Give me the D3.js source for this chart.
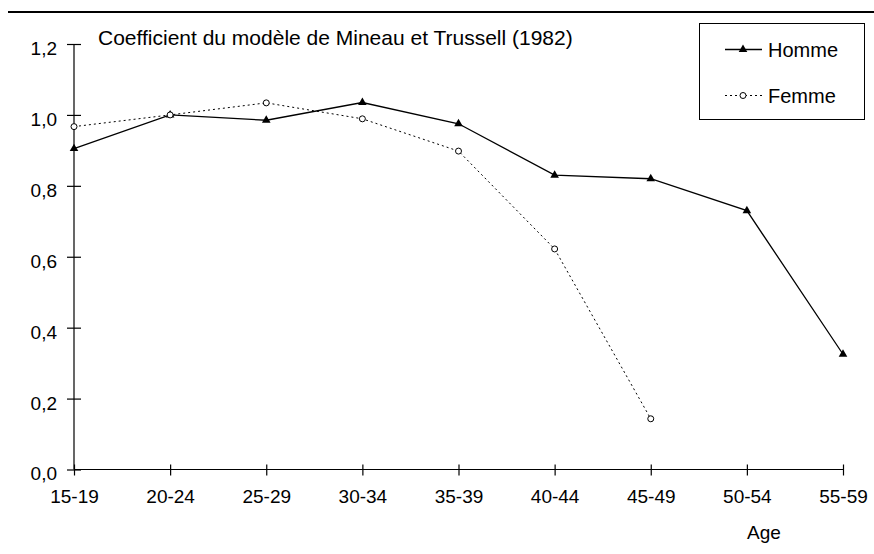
<!DOCTYPE html>
<html><head><meta charset="utf-8">
<script src="https://cdn.jsdelivr.net/npm/d3@7"></script>
<style>body{margin:0;background:#fff}svg{display:block}text{font-family:"Liberation Sans",Arial,sans-serif;fill:#000}</style>
</head><body>
<svg id="c" width="874" height="554"></svg>
<script>
const categories = ["15-19","20-24","25-29","30-34","35-39","40-44","45-49","50-54","55-59"];
const homme = [0.905, 1.0, 0.985, 1.035, 0.975, 0.83, 0.82, 0.73, 0.325];
const femme = [0.967, 1.0, 1.034, 0.989, 0.898, 0.622, 0.143];
const yTicks = [0, 0.2, 0.4, 0.6, 0.8, 1.0, 1.2];
const titleText = "Coefficient du modèle de Mineau et Trussell (1982)";
const xTitle = "Age";
const seriesNames = ["Homme", "Femme"];

const svg = d3.select("#c");
const x = d3.scalePoint().domain(categories).range([74, 843]);
const y = d3.scaleLinear().domain([0, 1.2]).range([469.5, 44]);

svg.append("line").attr("x1", 8).attr("x2", 874).attr("y1", 12).attr("y2", 12)
  .attr("stroke", "#000").attr("stroke-width", 2);

const fmt = d => d3.format(".1f")(d).replace(".", ",");
const yAxis = svg.append("g").attr("transform", "translate(74,0)")
  .call(d3.axisLeft(y).tickValues(yTicks).tickFormat(fmt).tickSize(7).tickPadding(10));
yAxis.selectAll(".tick line").attr("x2", 7).attr("x1", -7);
yAxis.select(".domain").attr("d", `M0,${y(1.2)}V${y(0)}`);
yAxis.selectAll("text").style("font-size", "19px").attr("dy", "0.55em").attr("x", -17);

const xAxis = svg.append("g").attr("transform", `translate(0,${y(0)})`)
  .call(d3.axisBottom(x).tickSize(6).tickPadding(14));
xAxis.selectAll(".tick line").attr("y1", -5).attr("y2", 6);
xAxis.select(".domain").attr("d", `M74,0H843`);
xAxis.selectAll("text").style("font-size", "19px");
svg.selectAll(".domain, .tick line").attr("stroke", "#000").attr("stroke-width", 1.2);

svg.append("text").attr("x", 747).attr("y", 539).style("font-size", "19px").text(xTitle);
svg.append("text").attr("x", 98).attr("y", 45).style("font-size", "21px").text(titleText);

const line = d3.line().x((d, i) => x(categories[i])).y(d => y(d));
svg.append("path").datum(femme).attr("d", line).attr("fill", "none")
  .attr("stroke", "#000").attr("stroke-width", 1).attr("stroke-dasharray", "2,3");
svg.append("path").datum(homme).attr("d", line).attr("fill", "none")
  .attr("stroke", "#000").attr("stroke-width", 1.3);

const tri = d3.symbol().type(d3.symbolTriangle).size(32);
svg.selectAll(".th").data(homme).enter().append("path")
  .attr("transform", (d, i) => `translate(${x(categories[i])},${y(d)})`)
  .attr("d", tri).attr("fill", "#000");
svg.selectAll(".cf").data(femme).enter().append("circle")
  .attr("cx", (d, i) => x(categories[i])).attr("cy", d => y(d)).attr("r", 3)
  .attr("fill", "#fff").attr("stroke", "#000").attr("stroke-width", 1);

// legend
svg.append("rect").attr("x", 699.5).attr("y", 23.5).attr("width", 165).attr("height", 96)
  .attr("fill", "#fff").attr("stroke", "#000").attr("stroke-width", 1);
svg.append("line").attr("x1", 725).attr("x2", 762).attr("y1", 49.5).attr("y2", 49.5)
  .attr("stroke", "#000").attr("stroke-width", 1.3);
svg.append("path").attr("transform", "translate(743,49.5)").attr("d", tri).attr("fill", "#000");
svg.append("line").attr("x1", 725).attr("x2", 762).attr("y1", 95.5).attr("y2", 95.5)
  .attr("stroke", "#000").attr("stroke-width", 1).attr("stroke-dasharray", "2,3");
svg.append("circle").attr("cx", 743).attr("cy", 95.5).attr("r", 3)
  .attr("fill", "#fff").attr("stroke", "#000");
svg.append("text").attr("x", 768).attr("y", 56.5).style("font-size", "20px").text(seriesNames[0]);
svg.append("text").attr("x", 768).attr("y", 103).style("font-size", "20px").text(seriesNames[1]);
</script>
</body></html>
